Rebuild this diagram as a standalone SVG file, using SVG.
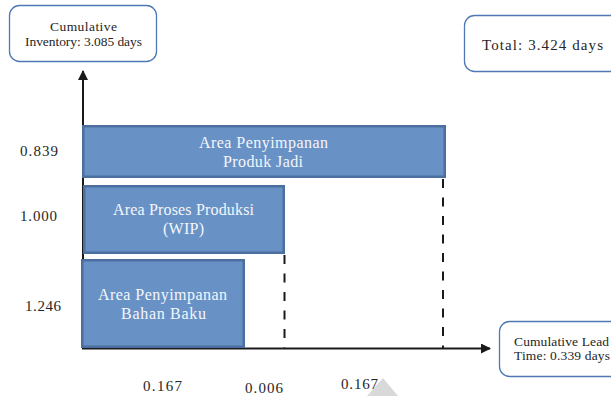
<svg xmlns="http://www.w3.org/2000/svg" width="611" height="396" viewBox="0 0 611 396">
  <style>
    text { font-family: "Liberation Serif", "Times New Roman", serif; fill: #262626; }
    .callout { fill: #ffffff; stroke: #4f79b4; stroke-width: 1.3; }
    .bar { fill: #6892c6; stroke: #4c6f9f; stroke-width: 2.5; }
    .bar-label { fill: #f4f6fa; font-size: 16px; }
    .axis { stroke: #1a1a1a; stroke-width: 2; fill: none; }
    .guide { stroke: #1a1a1a; stroke-width: 2; stroke-dasharray: 9 9.5; fill: none; }
    .num { font-size: 15px; }
    .small { font-size: 13.5px; }
  </style>
  <defs>
    <marker id="arrow" viewBox="0 0 10 10" refX="9" refY="5" markerWidth="5" markerHeight="5" orient="auto" markerUnits="strokeWidth">
      <path d="M0,0 L10,5 L0,10 z" fill="#1a1a1a"/>
    </marker>
  </defs>

  <rect width="611" height="396" fill="#ffffff"/>

  <!-- light grey shape at the bottom edge -->
  <polygon points="383,378 367,396 398,396" fill="#d9d9d9"/>

  <!-- axes and guide lines -->
  <g id="connectors">
    <line class="axis" x1="83" y1="349" x2="83" y2="71" marker-end="url(#arrow)"/>
    <line class="axis" x1="82" y1="348.5" x2="490" y2="348.5" marker-end="url(#arrow)"/>
    <line class="guide" x1="284.5" y1="255" x2="284.5" y2="348"/>
    <line class="guide" x1="443" y1="179" x2="443" y2="348"/>
  </g>

  <!-- callout: cumulative inventory -->
  <g id="cumulative-inventory">
    <rect class="callout" x="9.5" y="5.5" width="147" height="56" rx="10"/>
    <text class="small" x="50" y="30.5" textLength="67" lengthAdjust="spacing">Cumulative</text>
    <text class="small" x="25" y="45.5" textLength="117" lengthAdjust="spacing">Inventory: 3.085 days</text>
  </g>

  <!-- callout: total -->
  <g id="total">
    <rect class="callout" x="464.5" y="15.5" width="170" height="56" rx="10"/>
    <text x="482" y="50" font-size="15px" textLength="121" lengthAdjust="spacing">Total: 3.424 days</text>
  </g>

  <!-- callout: cumulative lead time -->
  <g id="cumulative-lead-time">
    <rect class="callout" x="499.5" y="321.5" width="140" height="55" rx="10"/>
    <text class="small" x="514" y="345.5" textLength="95" lengthAdjust="spacing">Cumulative Lead</text>
    <text class="small" x="514" y="360" textLength="96" lengthAdjust="spacing">Time: 0.339 days</text>
  </g>

  <!-- stage bars -->
  <g id="produk-jadi">
    <rect class="bar" x="83.25" y="126.25" width="361.5" height="50.5"/>
    <text class="bar-label" x="199" y="148" textLength="129" lengthAdjust="spacing">Area Penyimpanan</text>
    <text class="bar-label" x="223" y="167" textLength="80" lengthAdjust="spacing">Produk Jadi</text>
  </g>

  <g id="proses-produksi">
    <rect class="bar" x="84.25" y="186.25" width="199.5" height="66.5"/>
    <text class="bar-label" x="113" y="215" textLength="141" lengthAdjust="spacing">Area Proses Produksi</text>
    <text class="bar-label" x="163" y="234" textLength="41" lengthAdjust="spacing">(WIP)</text>
  </g>

  <g id="bahan-baku">
    <rect class="bar" x="82.25" y="260.25" width="161.5" height="86.5"/>
    <text class="bar-label" x="98" y="300" textLength="129" lengthAdjust="spacing">Area Penyimpanan</text>
    <text class="bar-label" x="121" y="319" textLength="85" lengthAdjust="spacing">Bahan Baku</text>
  </g>

  <!-- inventory values (vertical axis) -->
  <g id="inventory-values">
    <text class="num" x="20" y="156" textLength="38" lengthAdjust="spacing">0.839</text>
    <text class="num" x="20" y="221" textLength="37" lengthAdjust="spacing">1.000</text>
    <text class="num" x="25" y="310.5" textLength="36" lengthAdjust="spacing">1.246</text>
  </g>

  <!-- lead time values (horizontal axis) -->
  <g id="lead-time-values">
    <text class="num" x="143" y="391" textLength="39" lengthAdjust="spacing">0.167</text>
    <text class="num" x="245" y="392.5" textLength="38" lengthAdjust="spacing">0.006</text>
    <text class="num" x="341" y="389" textLength="37" lengthAdjust="spacing">0.167</text>
  </g>
</svg>
